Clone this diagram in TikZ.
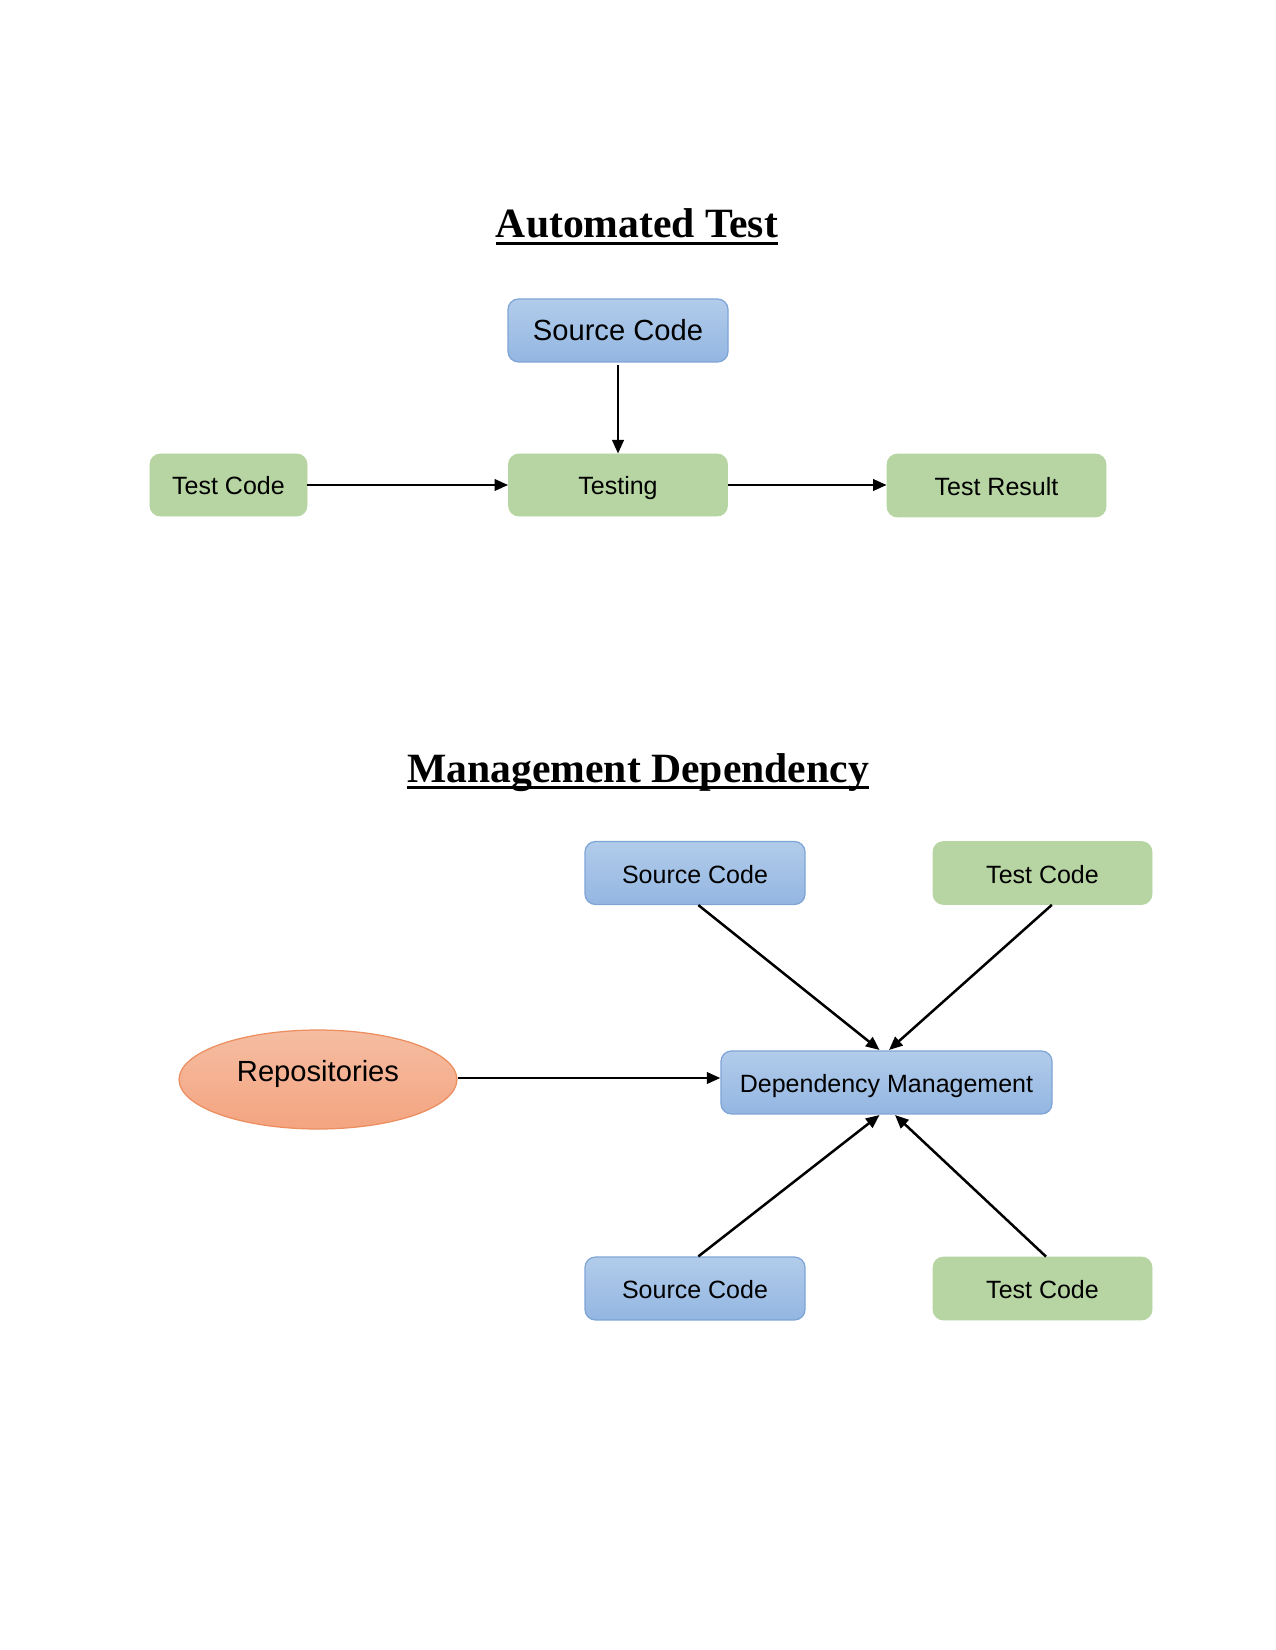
\documentclass[tikz,border=0pt]{standalone}
\usepackage{fontspec}
\setmainfont{Liberation Serif}
\newfontfamily\arialf{Liberation Sans}
\usetikzlibrary{shapes.geometric,arrows.meta}
\definecolor{bluetop}{HTML}{B2CCEA}
\definecolor{bluebot}{HTML}{93B6E2}
\definecolor{blueedge}{HTML}{7EA5D6}
\definecolor{greenfill}{HTML}{B7D5A3}
\definecolor{orangetop}{HTML}{F5BDA2}
\definecolor{orangebot}{HTML}{F4A480}
\definecolor{orangeedge}{HTML}{EC8E5F}
\tikzset{
  bluebox/.style={draw=blueedge, line width=0.6pt, top color=bluetop, bottom color=bluebot, rounded corners=5pt, text=black},
  greenbox/.style={draw=greenfill, fill=greenfill, rounded corners=5pt, text=black},
  fsmall/.style={font=\arialf\fontsize{12pt}{14pt}\selectfont, text height=10.6pt, text depth=1pt},
  fbig/.style={font=\arialf\fontsize{14pt}{16pt}\selectfont, text height=11pt, text depth=1pt},
  repo/.style={ellipse, draw=orangeedge, line width=0.6pt, top color=orangetop, bottom color=orangebot, font=\arialf\fontsize{14pt}{16pt}\selectfont, text height=10pt, text depth=8pt, inner sep=0pt},
  titletext/.style={font=\bfseries\fontsize{20pt}{24pt}\selectfont, inner sep=0pt, anchor=base},
  uline/.style={line width=1.3pt},
  conn/.style={line width=1.2pt, -{Triangle[length=6.5pt,width=5.5pt]}},
}
\begin{document}
\begin{tikzpicture}[x=0.48pt,y=-0.48pt]
\useasboundingbox (0,0) rectangle (1275,1650);
% Section 1
\node[titletext] (t1) at (637,238) {Automated Test};
\draw[uline] ([yshift=-2.6pt]t1.base west) -- ([yshift=-2.6pt]t1.base east);
\node[bluebox, fbig, minimum width=105.6pt, minimum height=30.2pt] (sc1) at (618,330.5) {Source Code};
\node[greenbox, fsmall, minimum width=105.1pt, minimum height=29.8pt] (ts) at (618,485) {Testing};
\node[greenbox, fsmall, minimum width=75.4pt, minimum height=29.8pt] (tc1) at (228.5,485) {Test Code};
\node[greenbox, fsmall, minimum width=105.1pt, minimum height=30.2pt] (tr) at (996.5,485.5) {Test Result};
\draw[conn] ([yshift=-1.3pt]sc1.south) -- (ts.north);
\draw[conn] (tc1.east) -- (ts.west);
\draw[conn] (ts.east) -- (tr.west |- ts.east);
% Section 2
\node[titletext] (t2) at (638,782) {Management Dependency};
\draw[uline] ([yshift=-2.6pt]t2.base west) -- ([yshift=-2.6pt]t2.base east);
\node[bluebox, fsmall, minimum width=105.6pt, minimum height=30.2pt] (sc2) at (695,873) {Source Code};
\node[greenbox, fsmall, minimum width=105.1pt, minimum height=30.2pt] (tc2) at (1042.5,873) {Test Code};
\node[bluebox, fsmall, minimum width=158.9pt, minimum height=30.2pt] (dm) at (886.5,1082.5) {Dependency Management};
\node[repo, minimum width=133.4pt, minimum height=47.5pt] (rp) at (318,1079.5) {Repositories};
\node[bluebox, fsmall, minimum width=105.6pt, minimum height=30.2pt] (sc3) at (695,1288.5) {Source Code};
\node[greenbox, fsmall, minimum width=105.1pt, minimum height=30.2pt] (tc3) at (1042.5,1288.5) {Test Code};
\coordinate (dmt1) at (879.5,1050);
\coordinate (dmt2) at (889,1050);
\coordinate (dmb1) at (879.5,1115);
\coordinate (dmb2) at (895,1115);
\draw[conn] ([xshift=1.6pt]sc2.south) -- (dmt1);
\draw[conn] ([xshift=4.5pt]tc2.south) -- (dmt2);
\draw[conn] ([xshift=1.6pt]sc3.north) -- (dmb1);
\draw[conn] ([xshift=1.7pt]tc3.north) -- (dmb2);
\draw[conn] (rp.east |- 0,1078) -- (dm.west |- 0,1078);
\end{tikzpicture}
\end{document}
